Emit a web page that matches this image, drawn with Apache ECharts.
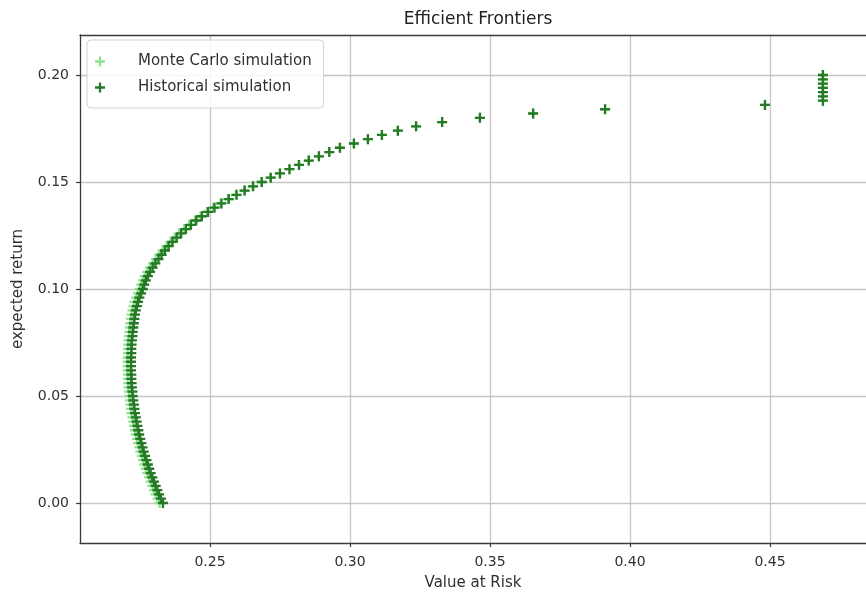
<!DOCTYPE html>
<html>
<head>
<meta charset="utf-8">
<script src="https://cdn.jsdelivr.net/npm/echarts@6/dist/echarts.min.js"></script>
<style>
  html, body { margin: 0; padding: 0; background: #ffffff; }
  #chart { width: 866px; height: 597px; }
</style>
</head>
<body>
<div id="chart"></div>
<script>
// Target expected returns of the frontier portfolios
const targetReturns = [
  0.000, 0.002, 0.004, 0.006, 0.008, 0.010, 0.012, 0.014, 0.016, 0.018,
  0.020, 0.022, 0.024, 0.026, 0.028, 0.030, 0.032, 0.034, 0.036, 0.038,
  0.040, 0.042, 0.044, 0.046, 0.048, 0.050, 0.052, 0.054, 0.056, 0.058,
  0.060, 0.062, 0.064, 0.066, 0.068, 0.070, 0.072, 0.074, 0.076, 0.078,
  0.080, 0.082, 0.084, 0.086, 0.088, 0.090, 0.092, 0.094, 0.096, 0.098,
  0.100, 0.102, 0.104, 0.106, 0.108, 0.110, 0.112, 0.114, 0.116, 0.118,
  0.120, 0.122, 0.124, 0.126, 0.128, 0.130, 0.132, 0.134, 0.136, 0.138,
  0.140, 0.142, 0.144, 0.146, 0.148, 0.150, 0.152, 0.154, 0.156, 0.158,
  0.160, 0.162, 0.164, 0.166, 0.168, 0.170, 0.172, 0.174, 0.176, 0.178,
  0.180, 0.182, 0.184, 0.186, 0.188, 0.190, 0.192, 0.194, 0.196, 0.198,
  0.200
];

// Value at Risk of each frontier portfolio, Monte Carlo simulation
const monteCarloVaR = [
  0.2320, 0.2313, 0.2306, 0.2300, 0.2294, 0.2288, 0.2282, 0.2276, 0.2271, 0.2266,
  0.2261, 0.2256, 0.2251, 0.2247, 0.2243, 0.2239, 0.2235, 0.2232, 0.2229, 0.2226,
  0.2223, 0.2220, 0.2218, 0.2216, 0.2214, 0.2212, 0.2211, 0.2209, 0.2208, 0.2207,
  0.2207, 0.2206, 0.2206, 0.2206, 0.2206, 0.2207, 0.2207, 0.2208, 0.2209, 0.2211,
  0.2212, 0.2214, 0.2216, 0.2218, 0.2220, 0.2223, 0.2227, 0.2231, 0.2236, 0.2242,
  0.2248, 0.2254, 0.2260, 0.2267, 0.2276, 0.2285, 0.2296, 0.2307, 0.2319, 0.2331,
  0.2345, 0.2359, 0.2374, 0.2390, 0.2407, 0.2426, 0.2446, 0.2466, 0.2489, 0.2512,
  0.2538, 0.2564, 0.2592, 0.2622, 0.2652, 0.2683, 0.2716, 0.2749, 0.2783, 0.2817,
  0.2852, 0.2889, 0.2926, 0.2964, 0.3014, 0.3064, 0.3114, 0.3171, 0.3236, 0.3329,
  0.3464, 0.3654, 0.3911, 0.4482, 0.4689, 0.4689, 0.4689, 0.4689, 0.4689, 0.4689,
  0.4689
];

// Value at Risk of each frontier portfolio, historical simulation
const historicalVaR = [
  0.2332, 0.2325, 0.2318, 0.2312, 0.2306, 0.2300, 0.2294, 0.2288, 0.2283, 0.2278,
  0.2273, 0.2268, 0.2263, 0.2259, 0.2255, 0.2251, 0.2247, 0.2244, 0.2241, 0.2238,
  0.2235, 0.2232, 0.2230, 0.2228, 0.2226, 0.2224, 0.2223, 0.2221, 0.2220, 0.2219,
  0.2219, 0.2218, 0.2218, 0.2218, 0.2218, 0.2219, 0.2219, 0.2220, 0.2221, 0.2223,
  0.2224, 0.2226, 0.2228, 0.2230, 0.2232, 0.2235, 0.2239, 0.2243, 0.2248, 0.2254,
  0.2260, 0.2265, 0.2271, 0.2278, 0.2286, 0.2295, 0.2305, 0.2316, 0.2327, 0.2339,
  0.2352, 0.2366, 0.2381, 0.2397, 0.2414, 0.2432, 0.2451, 0.2471, 0.2493, 0.2516,
  0.2541, 0.2567, 0.2595, 0.2624, 0.2654, 0.2685, 0.2717, 0.2750, 0.2784, 0.2818,
  0.2853, 0.2889, 0.2926, 0.2964, 0.3014, 0.3064, 0.3114, 0.3171, 0.3236, 0.3329,
  0.3464, 0.3654, 0.3911, 0.4482, 0.4689, 0.4689, 0.4689, 0.4689, 0.4689, 0.4689,
  0.4689
];

const seriesNames = ['Monte Carlo simulation', 'Historical simulation'];
const xTickValues = [0.25, 0.30, 0.35, 0.40, 0.45];
const yTickValues = [0.00, 0.05, 0.10, 0.15, 0.20];

const FONT = 'DejaVu Sans';
const TEXT = '#303030';
const AXIS = '#3a3a3a';
const GRID = '#c6c6c6';
const LIGHT = '#8fe28f';
const DARK = '#267a26';
// filled "+" marker
const PLUS = 'path://M3.85,0H6.15V3.85H10V6.15H6.15V10H3.85V6.15H0V3.85H3.85Z';

const toPoints = (vars) => vars.map((v, i) => [v, targetReturns[i]]);

const chart = echarts.init(document.getElementById('chart'), null, { renderer: 'canvas' });

chart.setOption({
  animation: false,
  backgroundColor: '#ffffff',
  textStyle: { fontFamily: FONT },
  title: {
    text: 'Efficient Frontiers',
    left: 473,
    top: 6,
    textAlign: 'center',
    textStyle: { fontFamily: FONT, fontSize: 17, fontWeight: 'normal', color: '#222222' }
  },
  legend: {
    orient: 'vertical',
    left: 87,
    top: 40,
    padding: [14, 12, 13, 8],
    itemWidth: 10,
    itemHeight: 10,
    itemGap: 11,
    borderColor: '#d2d2d2',
    borderWidth: 1,
    borderRadius: 4,
    backgroundColor: 'rgba(255,255,255,0.85)',
    textStyle: { fontFamily: FONT, fontSize: 15, color: TEXT, padding: [0, 0, 0, 28] },
    data: seriesNames.map((n) => ({ name: n, icon: PLUS }))
  },
  grid: { left: 80, right: 0, top: 35, bottom: 54, containLabel: false },
  xAxis: [
    {
      type: 'value',
      min: 0.203571,
      max: 0.484286,
      name: 'Value at Risk',
      nameLocation: 'middle',
      nameGap: 33,
      nameTextStyle: { fontFamily: FONT, fontSize: 15, color: TEXT },
      axisLine: { show: true, onZero: false, lineStyle: { color: AXIS, width: 1.3 } },
      axisTick: { show: true, length: 4, lineStyle: { color: AXIS, width: 1.2 }, customValues: xTickValues },
      axisLabel: { margin: 12, fontFamily: FONT, fontSize: 14, color: TEXT, customValues: xTickValues,
                   formatter: (v) => v.toFixed(2) },
      splitLine: { show: true, lineStyle: { color: GRID, width: 1.3 } }
    },
    {
      type: 'value',
      position: 'top',
      min: 0.203571,
      max: 0.484286,
      axisLine: { show: true, onZero: false, lineStyle: { color: AXIS, width: 1.3 } },
      axisTick: { show: false },
      axisLabel: { show: false },
      splitLine: { show: false }
    }
  ],
  yAxis: {
    type: 'value',
    min: -0.018692,
    max: 0.218692,
    name: 'expected return',
    nameLocation: 'middle',
    nameGap: 54,
    nameTextStyle: { fontFamily: FONT, fontSize: 15, color: TEXT },
    axisLine: { show: true, onZero: false, lineStyle: { color: AXIS, width: 1.3 } },
    axisTick: { show: true, length: 4, lineStyle: { color: AXIS, width: 1.2 }, customValues: yTickValues },
    axisLabel: { margin: 11, fontFamily: FONT, fontSize: 14, color: TEXT, customValues: yTickValues,
                 formatter: (v) => v.toFixed(2) },
    splitLine: { show: true, lineStyle: { color: GRID, width: 1.3 } }
  },
  series: [
    {
      name: seriesNames[0],
      type: 'scatter',
      xAxisIndex: 0,
      symbol: PLUS,
      symbolKeepAspect: true,
      symbolSize: 10,
      itemStyle: { color: LIGHT, opacity: 1 },
      data: toPoints(monteCarloVaR),
      z: 3
    },
    {
      name: seriesNames[1],
      type: 'scatter',
      xAxisIndex: 0,
      symbol: PLUS,
      symbolKeepAspect: true,
      symbolSize: 10,
      itemStyle: { color: DARK, opacity: 1 },
      data: toPoints(historicalVaR),
      z: 4
    }
  ]
});
</script>
</body>
</html>
